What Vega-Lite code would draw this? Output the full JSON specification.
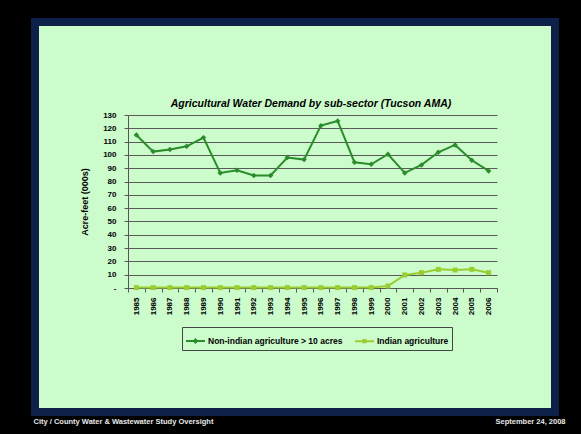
{
  "$schema": "https://vega.github.io/schema/vega-lite/v6.json",
  "autosize": {"type": "none"},
  "width": 520,
  "height": 390,
  "padding": {"left": 35, "top": 22, "right": 26, "bottom": 22},
  "background": "#000000",
  "title": {
    "text": "Agricultural Water Demand by sub-sector (Tucson AMA)",
    "orient": "top",
    "anchor": "middle",
    "frame": "group",
    "offset": -87,
    "dx": 16,
    "font": "Liberation Sans",
    "fontSize": 10.5,
    "fontWeight": "bold",
    "fontStyle": "italic",
    "color": "#000000"
  },
  "config": {
    "view": {"fill": "#ccfccc", "stroke": "#0d2048", "strokeWidth": 8},
    "font": "Liberation Sans"
  },
  "data": {
    "values": [
      {"year": "1985", "series": "Non-indian agriculture > 10 acres", "value": 115},
      {"year": "1986", "series": "Non-indian agriculture > 10 acres", "value": 102.5},
      {"year": "1987", "series": "Non-indian agriculture > 10 acres", "value": 104},
      {"year": "1988", "series": "Non-indian agriculture > 10 acres", "value": 106.5},
      {"year": "1989", "series": "Non-indian agriculture > 10 acres", "value": 113},
      {"year": "1990", "series": "Non-indian agriculture > 10 acres", "value": 86.5},
      {"year": "1991", "series": "Non-indian agriculture > 10 acres", "value": 88.5},
      {"year": "1992", "series": "Non-indian agriculture > 10 acres", "value": 84.5},
      {"year": "1993", "series": "Non-indian agriculture > 10 acres", "value": 84.5},
      {"year": "1994", "series": "Non-indian agriculture > 10 acres", "value": 98},
      {"year": "1995", "series": "Non-indian agriculture > 10 acres", "value": 96.5},
      {"year": "1996", "series": "Non-indian agriculture > 10 acres", "value": 122},
      {"year": "1997", "series": "Non-indian agriculture > 10 acres", "value": 125.5},
      {"year": "1998", "series": "Non-indian agriculture > 10 acres", "value": 94.5},
      {"year": "1999", "series": "Non-indian agriculture > 10 acres", "value": 93},
      {"year": "2000", "series": "Non-indian agriculture > 10 acres", "value": 100.5},
      {"year": "2001", "series": "Non-indian agriculture > 10 acres", "value": 86.5},
      {"year": "2002", "series": "Non-indian agriculture > 10 acres", "value": 92.5},
      {"year": "2003", "series": "Non-indian agriculture > 10 acres", "value": 102},
      {"year": "2004", "series": "Non-indian agriculture > 10 acres", "value": 107.5},
      {"year": "2005", "series": "Non-indian agriculture > 10 acres", "value": 96},
      {"year": "2006", "series": "Non-indian agriculture > 10 acres", "value": 88},
      {"year": "1985", "series": "Indian agriculture", "value": 0.3},
      {"year": "1986", "series": "Indian agriculture", "value": 0.3},
      {"year": "1987", "series": "Indian agriculture", "value": 0.3},
      {"year": "1988", "series": "Indian agriculture", "value": 0.3},
      {"year": "1989", "series": "Indian agriculture", "value": 0.3},
      {"year": "1990", "series": "Indian agriculture", "value": 0.3},
      {"year": "1991", "series": "Indian agriculture", "value": 0.3},
      {"year": "1992", "series": "Indian agriculture", "value": 0.3},
      {"year": "1993", "series": "Indian agriculture", "value": 0.3},
      {"year": "1994", "series": "Indian agriculture", "value": 0.3},
      {"year": "1995", "series": "Indian agriculture", "value": 0.3},
      {"year": "1996", "series": "Indian agriculture", "value": 0.3},
      {"year": "1997", "series": "Indian agriculture", "value": 0.3},
      {"year": "1998", "series": "Indian agriculture", "value": 0.3},
      {"year": "1999", "series": "Indian agriculture", "value": 0.3},
      {"year": "2000", "series": "Indian agriculture", "value": 1.5},
      {"year": "2001", "series": "Indian agriculture", "value": 9.8},
      {"year": "2002", "series": "Indian agriculture", "value": 11.5},
      {"year": "2003", "series": "Indian agriculture", "value": 14},
      {"year": "2004", "series": "Indian agriculture", "value": 13.5},
      {"year": "2005", "series": "Indian agriculture", "value": 14},
      {"year": "2006", "series": "Indian agriculture", "value": 11.5}
    ]
  },
  "resolve": {"axis": {"y": "independent"}},
  "layer": [
    {
      "mark": {"type": "line", "strokeWidth": 2},
      "encoding": {
        "x": {
          "field": "year",
          "type": "ordinal",
          "scale": {"type": "band", "range": [93, 462], "paddingInner": 0, "paddingOuter": 0},
          "axis": {
            "offset": -124,
            "tickBand": "extent",
            "labelAngle": -90,
            "labelAlign": "right",
            "labelBaseline": "middle",
            "labelFontSize": 8,
            "labelFontWeight": "bold",
            "labelColor": "#000000",
            "labelPadding": 5,
            "tickSize": 4,
            "tickColor": "#555555",
            "domainColor": "#555555",
            "grid": false,
            "title": "City / County Water & Wastewater Study Oversight",
            "titleX": -2,
            "titleY": 133,
            "titleAlign": "left",
            "titleBaseline": "middle",
            "titleAngle": 0,
            "titleColor": "#e8e8e8",
            "titleFontSize": 7.5,
            "titleFontWeight": "bold"
          }
        },
        "y": {
          "field": "value",
          "type": "quantitative",
          "scale": {"domain": [0, 130], "range": [266, 93], "nice": false, "zero": true},
          "axis": {
            "offset": -93,
            "values": [0, 10, 20, 30, 40, 50, 60, 70, 80, 90, 100, 110, 120, 130],
            "labelExpr": "datum.value === 0 ? '-' : datum.label",
            "labelFontSize": 8,
            "labelFontWeight": "bold",
            "labelColor": "#000000",
            "labelPadding": 8,
            "tickSize": 4,
            "tickColor": "#555555",
            "domainColor": "#555555",
            "grid": true,
            "gridColor": "#5a5a5a",
            "gridWidth": 1,
            "gridOpacity": 1,
            "title": "Acre-feet (000s)",
            "titleFontSize": 9,
            "titleFontWeight": "bold",
            "titleColor": "#000000",
            "titlePadding": 13
          }
        },
        "color": {
          "field": "series",
          "type": "nominal",
          "scale": {
            "domain": ["Non-indian agriculture > 10 acres", "Indian agriculture"],
            "range": ["#2b8c2b", "#9acd32"]
          },
          "legend": {
            "orient": "none",
            "legendX": 147,
            "legendY": 305,
            "direction": "horizontal",
            "title": null,
            "strokeColor": "#444444",
            "padding": 3,
            "labelFontSize": 8.5,
            "labelFontWeight": "bold",
            "labelColor": "#000000",
            "labelOffset": 2,
            "columnPadding": 8,
            "symbolSize": 360,
            "symbolStrokeWidth": 2,
            "symbolType": "M-1,0H1M0,-0.16L0.16,0L0,0.16L-0.16,0Z",
            "encode": {
              "symbols": {
                "update": {
                  "shape": {"signal": "datum.value === 'Indian agriculture' ? 'M-1,0H1M-0.12,-0.12H0.12V0.12H-0.12Z' : 'M-1,0H1M0,-0.16L0.16,0L0,0.16L-0.16,0Z'"},
                  "fill": {"scale": "color", "field": "value"}
                }
              }
            }
          }
        }
      }
    },
    {
      "transform": [{"filter": "datum.series === 'Non-indian agriculture > 10 acres'"}],
      "mark": {"type": "point", "filled": true, "size": 30, "opacity": 1, "shape": "diamond"},
      "encoding": {
        "x": {"field": "year", "type": "ordinal"},
        "y": {
          "field": "value",
          "type": "quantitative",
          "axis": {
            "orient": "right",
            "labels": false,
            "ticks": false,
            "domain": false,
            "grid": false,
            "title": "September 24, 2008",
            "titleX": 10,
            "titleY": 399,
            "titleAngle": 0,
            "titleAlign": "right",
            "titleBaseline": "middle",
            "titleColor": "#e8e8e8",
            "titleFontSize": 7.5,
            "titleFontWeight": "bold"
          }
        },
        "color": {"field": "series", "type": "nominal"}
      }
    },
    {
      "transform": [{"filter": "datum.series === 'Indian agriculture'"}],
      "mark": {"type": "point", "filled": true, "size": 25, "opacity": 1, "shape": "square"},
      "encoding": {
        "x": {"field": "year", "type": "ordinal"},
        "y": {"field": "value", "type": "quantitative", "axis": null},
        "color": {"field": "series", "type": "nominal"}
      }
    }
  ]
}
